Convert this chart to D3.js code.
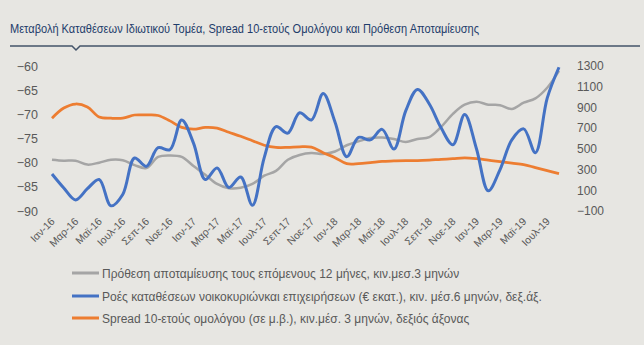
<!DOCTYPE html>
<html><head><meta charset="utf-8">
<script src="https://cdn.jsdelivr.net/npm/d3@7"></script>
<style>
html,body{margin:0;padding:0;background:#e7e6e2;}
svg{display:block;font-family:"Liberation Sans",Arial,sans-serif;}
</style></head>
<body>
<script>
const months = ["Ιαν-16","Φεβ-16","Μαρ-16","Απρ-16","Μαϊ-16","Ιουν-16","Ιουλ-16","Αυγ-16","Σεπ-16","Οκτ-16","Νοε-16","Δεκ-16",
"Ιαν-17","Φεβ-17","Μαρ-17","Απρ-17","Μαϊ-17","Ιουν-17","Ιουλ-17","Αυγ-17","Σεπ-17","Οκτ-17","Νοε-17","Δεκ-17",
"Ιαν-18","Φεβ-18","Μαρ-18","Απρ-18","Μαϊ-18","Ιουν-18","Ιουλ-18","Αυγ-18","Σεπ-18","Οκτ-18","Νοε-18","Δεκ-18",
"Ιαν-19","Φεβ-19","Μαρ-19","Απρ-19","Μαϊ-19","Ιουν-19","Ιουλ-19","Αυγ-19"];
const tickLabels = months.filter((m,i)=>i%2===0);
const savingIntention = [-79.4,-79.6,-79.6,-80.4,-80.0,-79.4,-79.5,-80.5,-81.1,-78.8,-78.5,-78.8,
-80.7,-82.5,-84.4,-85.3,-85.2,-84.4,-82.7,-81.7,-79.4,-78.4,-78.0,-78.2,
-77.7,-76.4,-75.6,-74.9,-74.8,-75.1,-75.7,-75.1,-74.7,-72.6,-69.9,-68.0,
-67.4,-68.0,-68.1,-68.9,-67.6,-66.7,-64.5,-61.0];
const depositFlows = [257,122,7,115,204,-50,60,412,331,511,492,779,
556,204,316,127,228,-45,415,715,652,849,779,1035,
760,424,611,587,688,498,866,1074,933,703,540,832,
501,95,300,587,693,463,990,1288];
const bondSpread = [796,894,933,904,808,796,796,827,827,822,770,707,
690,707,700,660,621,578,535,514,514,520,516,463,
415,357,357,367,379,383,386,386,391,399,405,412,
405,391,377,362,348,319,290,261];
const leftTicks = [-60,-65,-70,-75,-80,-85,-90];
const rightTicks = [1300,1100,900,700,500,300,100,-100];
const titleText = "Μεταβολή Καταθέσεων Ιδιωτικού Τομέα, Spread 10-ετούς Ομολόγου και Πρόθεση Αποταμίευσης";
const legendItems = [
 {label:"Πρόθεση αποταμίευσης τους επόμενους 12 μήνες, κιν.μεσ.3 μηνών", color:"#a5a5a5"},
 {label:"Ροές καταθέσεων νοικοκυριώνκαι επιχειρήσεων (€ εκατ.), κιν. μέσ.6 μηνών, δεξ.άξ.", color:"#4472c4"},
 {label:"Spread 10-ετούς ομολόγου (σε μ.β.), κιν.μέσ. 3 μηνών, δεξιός άξονας", color:"#ed7d31"}
];

const W=644,H=345;
const svg=d3.select("body").append("svg").attr("width",W).attr("height",H);
svg.append("rect").attr("width",W).attr("height",H).attr("fill","#e7e6e2");

svg.append("text").attr("x",10).attr("y",33).attr("fill","#1f3d6b")
 .attr("font-size",13.5).attr("textLength",469).attr("lengthAdjust","spacingAndGlyphs").text(titleText);
svg.append("path").attr("d","M10,46 L72,46 L76,50 L80,46 L640,46")
 .attr("fill","none").attr("stroke","#44546a").attr("stroke-width",1.5);

const x=d3.scalePoint().domain(months).range([52,559]);
const yL=d3.scaleLinear().domain([-90,-60]).range([211,66]);
const yR=d3.scaleLinear().domain([-100,1300]).range([211,66]);

const axL=d3.axisLeft(yL).tickValues(leftTicks).tickSize(0).tickPadding(0).tickFormat(d3.format("d"));
const gL=svg.append("g").attr("transform","translate(38,0)").call(axL);
const axR=d3.axisRight(yR).tickValues(rightTicks).tickSize(0).tickPadding(0).tickFormat(d3.format("d"));
const gR=svg.append("g").attr("transform","translate(577,0)").call(axR);
const axB=d3.axisBottom(x).tickValues(tickLabels).tickSize(0).tickPadding(0);
const gB=svg.append("g").attr("transform","translate(0,218)").call(axB);
[gL,gR,gB].forEach(g=>{g.select(".domain").remove();
 g.selectAll("text").attr("fill","#595959").attr("font-family","'Liberation Sans',Arial,sans-serif");});
gL.selectAll("text").attr("font-size",12.5);
gR.selectAll("text").attr("font-size",12);
gB.selectAll("text").attr("font-size",10.5).attr("text-anchor","end")
 .attr("dy","0").attr("transform","translate(3,4) rotate(-45)");

const curve=d3.curveCatmullRom.alpha(0.5);
const lineL=d3.line().x((d,i)=>x(months[i])).y(d=>yL(d)).curve(curve);
const lineR=d3.line().x((d,i)=>x(months[i])).y(d=>yR(d)).curve(curve);
svg.append("path").datum(savingIntention).attr("d",lineL).attr("fill","none").attr("stroke","#a5a5a5").attr("stroke-width",2.5);
svg.append("path").datum(bondSpread).attr("d",lineR).attr("fill","none").attr("stroke","#ed7d31").attr("stroke-width",2.75);
svg.append("path").datum(depositFlows).attr("d",lineR).attr("fill","none").attr("stroke","#4472c4").attr("stroke-width",3);

const lg=svg.append("g");
legendItems.forEach((it,i)=>{
 const yy=[273,296,318][i];
 lg.append("line").attr("x1",72).attr("x2",99).attr("y1",yy).attr("y2",yy).attr("stroke",it.color).attr("stroke-width",3);
 lg.append("text").attr("x",102).attr("y",yy+4.5).attr("fill","#595959").attr("font-size",12).text(it.label);
});
</script>
</body></html>
